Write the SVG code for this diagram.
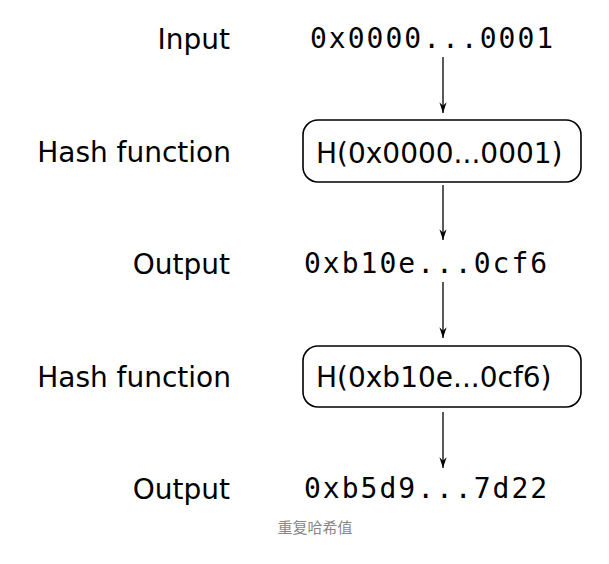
<svg xmlns="http://www.w3.org/2000/svg" width="609" height="564" viewBox="0 0 609 564">
<style>
.lbl{font-family:"DejaVu Sans",sans-serif;font-size:28px;fill:#000;text-anchor:end}
.hex{font-family:"DejaVu Sans Mono",monospace;font-size:28px;letter-spacing:2px;fill:#000}
.fn{font-family:"DejaVu Sans",sans-serif;font-size:28px;fill:#000}
.box{fill:#fff;stroke:#000;stroke-width:1.6}
.cap{font-family:"Noto Sans CJK SC",sans-serif;font-size:15px;fill:#888;text-anchor:middle}
.conn line{stroke:#000;stroke-width:1.3}
</style>
<defs>
<marker id="ah" viewBox="0 0 12 10" refX="12" refY="5" markerWidth="12" markerHeight="9" markerUnits="userSpaceOnUse" orient="auto">
<path d="M0,1 L12,5 L0,9 L4,5 Z" fill="#000"/>
</marker>
</defs>
<rect width="609" height="564" fill="#fff"/>
<g id="labels">
<text class="lbl" x="230" y="49">Input</text>
<text class="lbl" x="231" y="162">Hash function</text>
<text class="lbl" x="230" y="274">Output</text>
<text class="lbl" x="231" y="387">Hash function</text>
<text class="lbl" x="230" y="499">Output</text>
</g>
<g id="input"><text class="hex" x="310" y="48">0x0000...0001</text></g>
<g id="hash1"><rect class="box" x="303" y="120" width="278" height="62" rx="15"/><text class="fn" x="316" y="163">H(0x0000...0001)</text></g>
<g id="output1"><text class="hex" x="304" y="273">0xb10e...0cf6</text></g>
<g id="hash2"><rect class="box" x="303" y="346" width="278" height="61" rx="15"/><text class="fn" x="316" y="387">H(0xb10e...0cf6)</text></g>
<g id="output2"><text class="hex" x="304" y="498">0xb5d9...7d22</text></g>
<g class="conn" id="connectors">
<line x1="443" y1="57" x2="443" y2="113" marker-end="url(#ah)"/>
<line x1="443" y1="185" x2="443" y2="240" marker-end="url(#ah)"/>
<line x1="443" y1="282" x2="443" y2="338" marker-end="url(#ah)"/>
<line x1="443" y1="412" x2="443" y2="468" marker-end="url(#ah)"/>
</g>
<text class="cap" x="315" y="533">重复哈希值</text>
</svg>
